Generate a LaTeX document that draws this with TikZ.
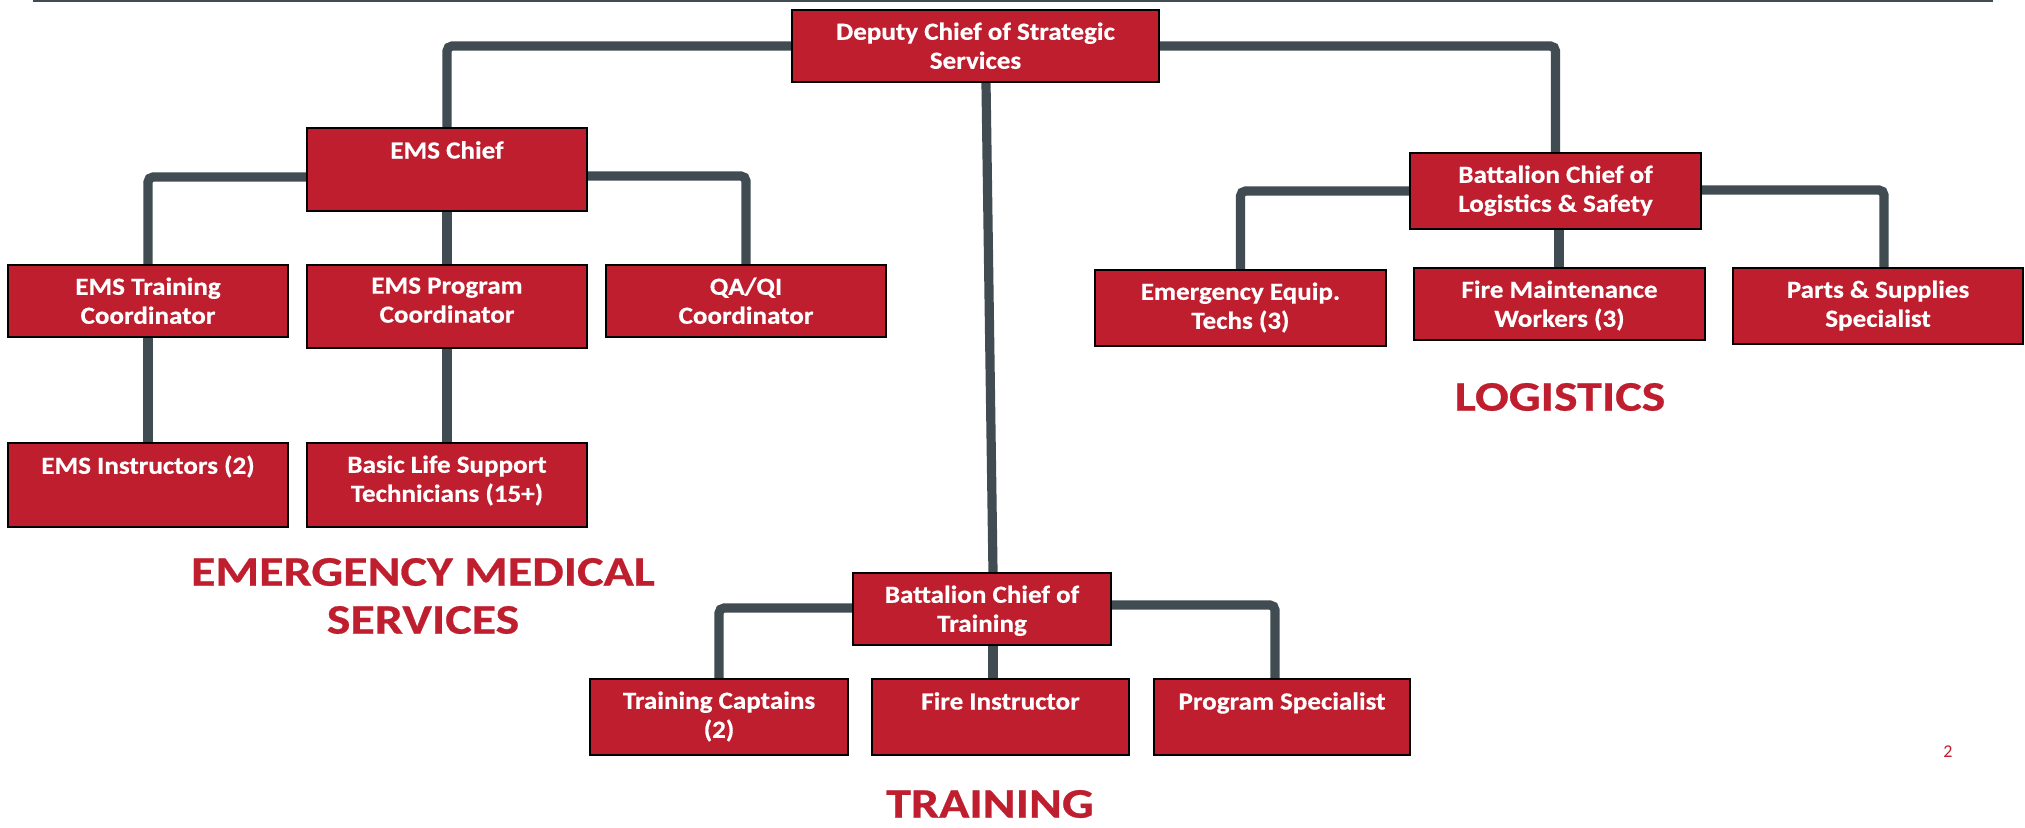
\documentclass[tikz,border=0pt]{standalone}
\usepackage{fontspec}
\setmainfont{Carlito}
\newfontfamily\headfont{Carlito Bold}[FakeStretch=1.19, FakeBold=0.6]
\newfontfamily\boxfont{Carlito Bold}[FakeStretch=1.1, FakeBold=0.5]
\usetikzlibrary{fit,backgrounds}
\definecolor{boxred}{HTML}{BE1E2D}
\definecolor{conngray}{HTML}{414B52}
\tikzset{
 orgbox/.style={draw=black, line width=0.9pt, fill=boxred, inner sep=0pt},
 boxtext/.style={text=white, font=\boxfont\fontsize{12.3}{14.5}\selectfont, align=center, inner sep=0pt, anchor=north, execute at begin node={\rule{0pt}{9pt}}},
 conn/.style={draw=conngray, line width=4.6pt, rounded corners=2.5pt},
 heading/.style={text=boxred, font=\headfont\fontsize{21}{24}\selectfont, align=center},
 rule line/.style={draw=conngray, line width=1pt}
}
\newcommand\orgnode[6]{%
 \node[orgbox, fit={(#2,#3)(#4,#5)}] (#1) {};
 \node[boxtext] (#1t) at ([yshift=-6.5pt]#1.north) {#6};}
\begin{document}
\begin{tikzpicture}[x=0.5pt,y=-0.5pt]
\useasboundingbox (0,0) rectangle (2025,827);
\coordinate (rl1) at (33,1);
\coordinate (rl2) at (1993,1);
\draw[rule line] (rl1) -- (rl2);

\orgnode{dep}{792}{10}{1159}{82}{Deputy Chief of Strategic\\Services}
\orgnode{ems}{307}{128}{587}{211}{EMS Chief}
\orgnode{etc}{8}{265}{288}{337}{EMS Training\\Coordinator}
\orgnode{epc}{307}{265}{587}{348}{EMS Program\\Coordinator}
\orgnode{qa}{606}{265}{886}{337}{QA/QI\\Coordinator}
\orgnode{ei}{8}{443}{288}{527}{EMS Instructors (2)}
\orgnode{bls}{307}{443}{587}{527}{Basic Life Support\\Technicians (15+)}
\orgnode{log}{1410}{153}{1701}{229}{Battalion Chief of\\Logistics \& Safety}
\orgnode{eet}{1095}{270}{1386}{346}{Emergency Equip.\\Techs (3)}
\orgnode{fmw}{1414}{268}{1705}{340}{Fire Maintenance\\Workers (3)}
\orgnode{pss}{1733}{268}{2023}{344}{Parts \& Supplies\\Specialist}
\orgnode{btr}{853}{573}{1111}{645}{Battalion Chief of\\Training}
\orgnode{tc}{590}{679}{848}{755}{Training Captains\\(2)}
\orgnode{fi}{872}{679}{1129}{755}{Fire Instructor}
\orgnode{ps}{1154}{679}{1410}{755}{Program Specialist}

\begin{scope}[on background layer]
\draw[conn] (dep.west) -| (ems.north);
\draw[conn] (dep.east) -| (log.north);
\draw[conn] (986,0 |- dep.south) -- (993,0 |- btr.north);
\draw[conn] (ems.west |- 0,177) -| (etc.north);
\draw[conn] (ems.east |- 0,176) -| (qa.north);
\draw[conn] (ems.south) -- (epc.north);
\draw[conn] (etc.south) -- (ei.north);
\draw[conn] (epc.south) -- (bls.north);
\draw[conn] (log.west) -| (eet.north);
\draw[conn] (log.east |- 0,190) -| (1884,0 |- pss.north);
\draw[conn] (1559,0 |- log.south) -- (1559,0 |- fmw.north);
\draw[conn] (btr.west |- 0,608) -| (tc.north);
\draw[conn] (btr.east |- 0,605) -| (1275,0 |- ps.north);
\draw[conn] (993,0 |- btr.south) -- (993,0 |- fi.north);
\end{scope}

\node[heading] (hems) at (423,596) {EMERGENCY MEDICAL\\SERVICES};
\node[heading] (hlog) at (1560,397) {LOGISTICS};
\node[heading] (htr) at (990,804) {TRAINING};
\node[text=boxred, font=\fontsize{9}{10}\selectfont] (pg) at (1948,752) {2};
\end{tikzpicture}
\end{document}
